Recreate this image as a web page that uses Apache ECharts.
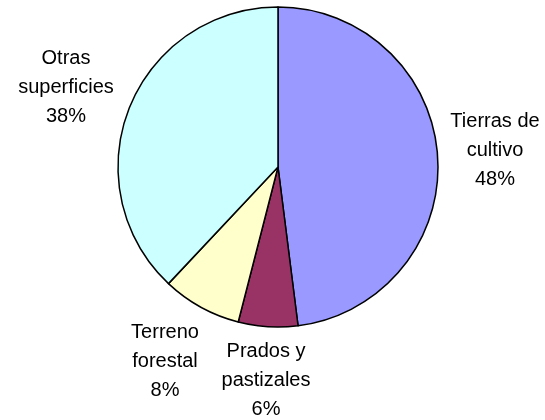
<!DOCTYPE html>
<html>
<head>
<meta charset="utf-8">
<script src="https://cdn.jsdelivr.net/npm/echarts@6/dist/echarts.min.js"></script>
<style>
    html, body { margin: 0; padding: 0; background: #fff; }
    #chart { width: 545px; height: 420px; }
</style>
</head>
<body>
<div id="chart"></div>
<script>
// categories and percentages, clockwise from 12 o'clock
var categories = ['Tierras de\ncultivo', 'Prados y\npastizales', 'Terreno\nforestal', 'Otras\nsuperficies']
var values = [48, 6, 8, 38]
var colors = ['#9999ff', '#993366', '#ffffcc', '#ccffff']

// where each label sits (centre of its text block)
var labelPos = [[495, 150], [266, 380], [165, 361], [66, 87]]

var myChart = echarts.init(document.getElementById('chart'))

var data = categories.map(function (name, i) {
    return { name: name, value: values[i], itemStyle: { color: colors[i] } }
})

var option = {
    animation: false,
    series: [{
        type: 'pie',
        center: [278, 167],
        radius: 160,
        startAngle: 90,
        clockwise: true,
        data: data,
        itemStyle: {
            borderColor: '#000',
            borderWidth: 1.5
        },
        label: {
            show: true,
            position: 'outside',
            alignTo: 'none',
            overflow: 'none',
            formatter: '{b}\n{c}%',
            fontFamily: 'Liberation Sans, Arial, sans-serif',
            fontSize: 20,
            lineHeight: 29,
            color: '#000',
            align: 'center'
        },
        labelLine: { show: false },
        labelLayout: function (params) {
            var p = labelPos[params.dataIndex]
            return { x: p[0], y: p[1], align: 'center', verticalAlign: 'middle' }
        },
        emphasis: { disabled: true }
    }]
}

myChart.setOption(option)
window.addEventListener('resize', function () {
    myChart.resize()
})
</script>
</body>
</html>
